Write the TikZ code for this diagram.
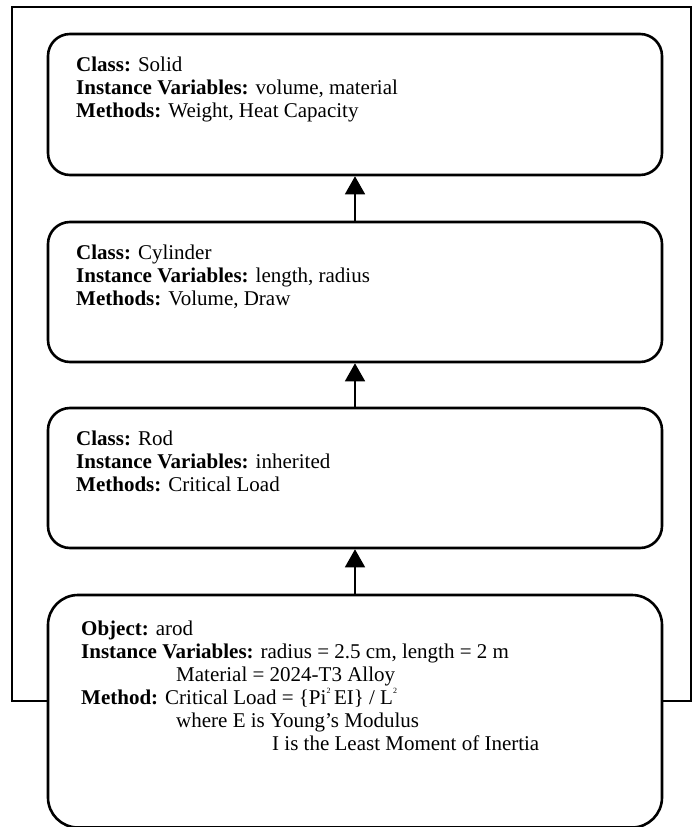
\documentclass[tikz,border=0pt]{standalone}
\usepackage{fontspec}
\setmainfont{Liberation Serif}
\usetikzlibrary{arrows.meta}
\newcommand{\sq}{\raisebox{0.5em}{\fontsize{8}{8}\selectfont 2}}
\begin{document}
\begin{tikzpicture}[x=1pt,y=-1pt,
  classbox/.style={draw, line width=2.6pt, rounded corners=22pt, inner sep=0pt,
    minimum width=614pt},
  objbox/.style={classbox, rounded corners=30pt},
  boxtext/.style={anchor=base west, align=left, inner sep=0pt,
    font=\fontsize{21}{23}\selectfont},
  inherit/.style={line width=1.6pt, -{Triangle[width=20pt,length=18pt]}},
  frame/.style={line width=1.8pt}]
\useasboundingbox (0,0) rectangle (693,827);

% class hierarchy boxes
\node[classbox, minimum height=141pt] (b1) at (355,104.5) {};
\node[classbox, minimum height=140pt] (b2) at (355,292) {};
\node[classbox, minimum height=140pt] (b3) at (355,478) {};
\node[objbox, minimum height=232.5pt] (b4) at (355,711.25) {};

% box contents (each node is placed by the baseline of its last line)
\node[boxtext] (t1) at (76,117) {\textbf{Class:} Solid\\
  \textbf{Instance Variables:} volume, material\\
  \textbf{Methods:} Weight, Heat Capacity};
\node[boxtext] (t2) at (76,305) {\textbf{Class:} Cylinder\\
  \textbf{Instance Variables:} length, radius\\
  \textbf{Methods:} Volume, Draw};
\node[boxtext] (t3) at (76,491) {\textbf{Class:} Rod\\
  \textbf{Instance Variables:} inherited\\
  \textbf{Methods:} Critical Load};
\node[boxtext] (t4) at (81,750) {\textbf{Object:} arod\\
  \textbf{Instance Variables:} radius = 2.5 cm, length = 2 m\\
  \hspace*{95pt}Material = 2024-T3 Alloy\\
  \textbf{Method:} Critical Load = \{Pi\sq\,EI\} / L\sq\\
  \hspace*{95pt}where E is Young’s Modulus\\
  \hspace*{191pt}I is the Least Moment of Inertia};

% inheritance arrows
\draw[inherit] (b2.north) -- (b1.south);
\draw[inherit] (b3.north) -- (b2.south);
\draw[inherit] (b4.north) -- (b3.south);

% surrounding frame
\coordinate (fl) at (12,701);
\coordinate (ftl) at (12,7);
\coordinate (ftr) at (691,7);
\coordinate (fr) at (691,701);
\draw[frame] (b4.west |- fl) -- (fl) -- (ftl) -- (ftr) -- (fr) -- (b4.east |- fr);
\end{tikzpicture}
\end{document}
